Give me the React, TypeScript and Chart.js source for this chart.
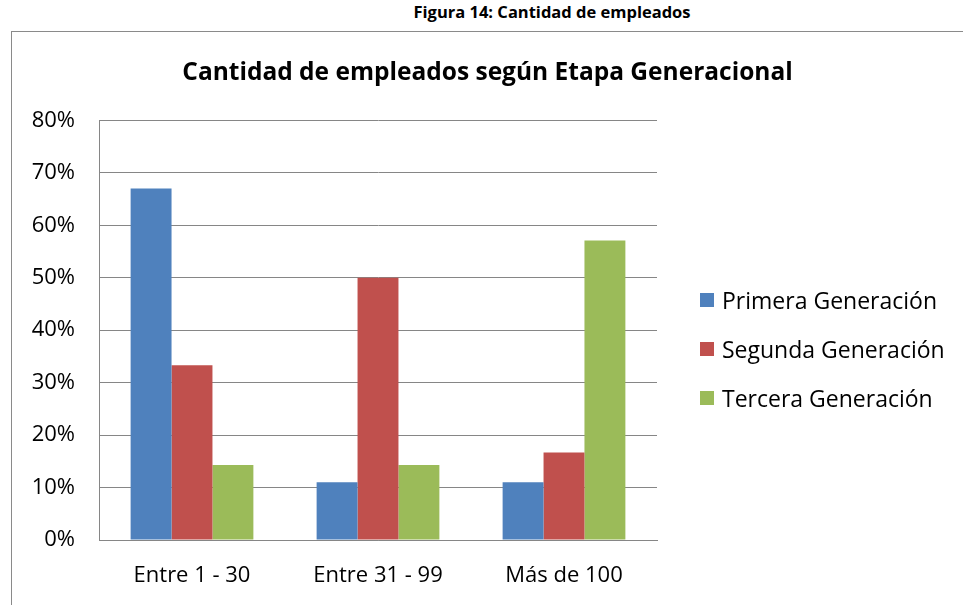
import React, { useEffect, useRef } from "react";
import { Chart, registerables } from "chart.js";

Chart.register(...registerables);

const categories = ["Entre 1 - 30", "Entre 31 - 99", "Más de 100"];
const seriesNames = ["Primera Generación", "Segunda Generación", "Tercera Generación"];
const primera = [67, 11, 11];
const segunda = [33.3, 50, 16.7];
const tercera = [14.3, 14.3, 57.1];
const colors = ["#4F81BD", "#C0504D", "#9BBB59"];
const yTicks = [0, 10, 20, 30, 40, 50, 60, 70, 80];

const FONT = "'Open Sans', sans-serif";

export default function App() {
  const ref = useRef<HTMLCanvasElement | null>(null);

  useEffect(() => {
    if (!ref.current) return;
    const chart = new Chart(ref.current, {
      type: "bar",
      data: {
        labels: categories,
        datasets: [primera, segunda, tercera].map((d, i) => ({
          label: seriesNames[i],
          data: d,
          backgroundColor: colors[i],
          borderWidth: 0,
          categoryPercentage: 0.66,
          barPercentage: 1,
          yAxisID: "y",
        })),
      },
      options: {
        responsive: false,
        animation: false,
        maintainAspectRatio: false,
        layout: { padding: 0 },
        plugins: {
          legend: { display: false },
          tooltip: { enabled: false },
          title: {
            display: true,
            text: "Cantidad de empleados según Etapa Generacional",
            color: "#000",
            font: { family: FONT, size: 24.5, weight: "bold", lineHeight: 1.2 },
            padding: { top: 26, bottom: 33 },
          },
        },
        scales: {
          x: {
            grid: { display: false, drawTicks: false },
            border: { display: true, color: "#868686", width: 1 },
            ticks: {
              color: "#000",
              font: { family: FONT, size: 22 },
              padding: 23,
            },
            afterFit: (s: any) => {
              s.height = 65;
            },
          },
          y: {
            min: 0,
            max: 80,
            afterBuildTicks: (s: any) => {
              s.ticks = yTicks.map((v) => ({ value: v }));
            },
            grid: { color: "#868686", lineWidth: 1, drawTicks: false },
            border: { display: true, color: "#868686", width: 1 },
            ticks: {
              color: "#000",
              font: { family: FONT, size: 22 },
              padding: 24,
              callback: (v: any) => v + "%",
            },
            afterFit: (s: any) => {
              s.width = 87;
            },
          },
          legendSpace: {
            position: "right",
            min: 0,
            max: 80,
            grid: { display: false, drawTicks: false },
            border: { display: false },
            ticks: { display: false },
            afterFit: (s: any) => {
              s.width = 306;
            },
          },
        },
      },
    });
    return () => chart.destroy();
  }, []);

  const legendTops = [300, 349, 398];

  return (
    <div style={{ position: "absolute", left: 0, top: 0, width: 963, height: 605, background: "#fff", overflow: "hidden", fontFamily: FONT }}>
      <div style={{ position: "absolute", left: 352, width: 400, top: 1, textAlign: "center", fontWeight: "bold", fontSize: 16.5, lineHeight: "22px", color: "#000" }}>
        Figura 14: Cantidad de empleados
      </div>
      <div style={{ position: "absolute", left: 11, top: 31, width: 960, height: 600, borderLeft: "1.5px solid #8a8a8a", borderTop: "1.5px solid #8a8a8a" }} />
      <canvas ref={ref} width={951} height={573} style={{ position: "absolute", left: 12, top: 32, width: 951, height: 573 }} />
      {seriesNames.map((n, i) => (
        <div key={n} style={{ position: "absolute", left: 700, top: legendTops[i] - 14, height: 28, display: "flex", alignItems: "center", whiteSpace: "nowrap" }}>
          <span style={{ display: "inline-block", width: 14, height: 14, background: colors[i], marginRight: 8 }} />
          <span style={{ fontSize: 23, color: "#000" }}>{n}</span>
        </div>
      ))}
    </div>
  );
}
